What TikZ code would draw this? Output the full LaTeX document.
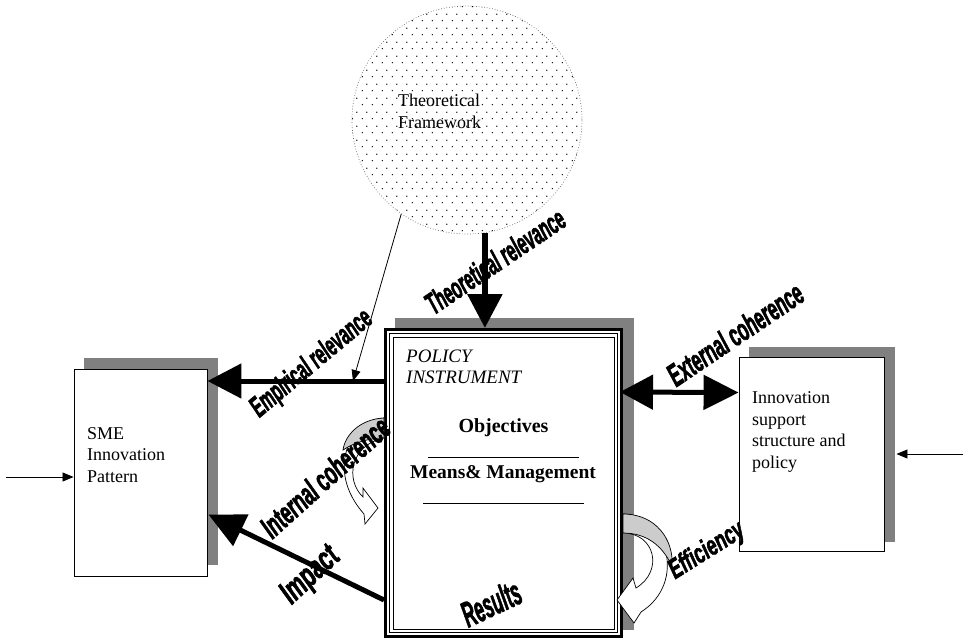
\documentclass[tikz,border=0pt]{standalone}
\usepackage{graphicx}
\usepackage{fontspec}
\setmainfont{Liberation Serif}
\newfontface\wafont{Liberation Sans Bold Italic}[FakeBold=2.5]
\usetikzlibrary{arrows.meta,shapes.geometric,patterns.meta,calc}
\tikzdeclarepattern{name=sdots,type=uncolored,bounding box={(0pt,0pt) and (10pt,14pt)},tile size={(10pt,14pt)},code={\fill (2.5pt,3.5pt) circle (0.8pt); \fill (7.5pt,10.5pt) circle (0.8pt);}}
\begin{document}
\begin{tikzpicture}[x=1pt,y=-1pt,
  shadowbox/.style={fill=black!50,draw=none},
  plainbox/.style={rectangle,draw=black,line width=0.9pt,fill=white,inner sep=0pt},
  bigarrow/.style={line width=5pt,-{Triangle[length=34pt,width=34pt]}},
  thinarrow/.style={line width=0.8pt,-{Triangle[length=11pt,width=9pt]}},
  walabel/.style={font=\wafont,inner sep=0pt},
  serifblock/.style={font=\fontsize{18}{21.5}\selectfont,align=left,inner sep=0pt},
  curvedarrow/.style={draw=black,line width=0.7pt,fill=white},
  curvedback/.style={draw=black,line width=0.7pt,fill=black!20}]
\useasboundingbox (0,0) rectangle (968,640);

% shadows
\fill[shadowbox] (84,358) rectangle (218,565);
\fill[shadowbox] (395,318) rectangle (634,630);
\fill[shadowbox] (749,347) rectangle (895,542);

% boxes
\node[plainbox,minimum width=133pt,minimum height=207pt] (sme) at (140.5,472.5) {};
\node[plainbox,minimum width=145pt,minimum height=194pt] (isp) at (811.5,454) {};
\node[rectangle,draw=black,line width=3pt,fill=white,inner sep=0pt,minimum width=236pt,minimum height=307pt] (pi) at (503.5,483) {};
\draw[line width=1.4pt] ($(pi.north west)+(5.5,5.5)$) rectangle ($(pi.south east)+(-5.5,-5.5)$);
\draw[line width=1pt] ($(pi.north west)+(9,9)$) rectangle ($(pi.south east)+(-9,-9)$);

% ellipse
\node[ellipse,draw=black!60,dotted,line width=0.7pt,pattern=sdots,pattern color=black,minimum width=230pt,minimum height=228pt,inner sep=0pt] (tf) at (467,120) {};
\node[serifblock,anchor=base west] (tfT) at (398,128) {Theoretical\\Framework};

% box texts
\node[serifblock,anchor=base west] (smeT) at (87,482) {SME\\Innovation\\Pattern};
\node[serifblock,anchor=base west] (ispT) at (752,468) {Innovation\\support\\structure and\\policy};
\node[font=\fontsize{19}{21}\selectfont\itshape,align=left,anchor=base west,inner sep=0pt] (piT) at (406,383) {POLICY\\INSTRUMENT};
\node[font=\fontsize{20}{24}\selectfont\bfseries,anchor=base,inner sep=0pt] (obj) at (503.5,432) {Objectives};
\node[font=\fontsize{19.5}{24}\selectfont\bfseries,anchor=base,inner sep=0pt] (mm) at (503,478) {Means\& Management};
\draw[line width=1pt] (428,457) -- (579,457);
\draw[line width=1pt] (423,503) -- (584,503);

% connectors
\coordinate (empS) at ($(pi.north west)+(0,53)$);
\coordinate (empM) at ($(empS)+(-31,0)$);
\draw[bigarrow] (empS) -- (empS -| sme.east);
\draw[thinarrow] (tf.-125.8) -- (empM);
\draw[bigarrow,line width=6pt] (tf.-81.5) -- (tf.-81.5 |- pi.north);
\coordinate (impS) at ($(pi.north west)+(0,272)$);
\coordinate (impE) at ($(sme.north east)+(1,146)$);
\draw[bigarrow,-{Triangle[length=36pt,width=34pt]}] (impS) -- (impE);
\coordinate (extS) at ($(pi.north east)+(-3,64)$);
\coordinate (extE) at ($(isp.north west)+(0,36)$);
\draw[line width=5pt,{Triangle[length=33pt,width=34pt]}-{Triangle[length=35pt,width=34pt]}] (extS) -- (extE);
\coordinate (inL) at ($(sme.west)+(-68,4.5)$);
\draw[thinarrow] (inL) -- (inL -| sme.west);
\coordinate (inR) at ($(isp.east)+(79,0)$);
\coordinate (ispS) at ($(isp.east)+(12,0)$);
\draw[thinarrow] (inR) -- (ispS);

% efficiency curved arrow
\draw[curvedarrow] (623,514) .. controls (666,514) and (688,582) .. (641,612) -- (634,623) -- (617,600) -- (633,578) -- (636,588) .. controls (664,571) and (655,533) .. (623,533) -- cycle;
\draw[curvedback] (623,514) .. controls (656,514) and (674,540) .. (672,566) .. controls (662,545) and (646,533) .. (623,533) -- cycle;

% internal coherence curved arrow
\draw[curvedarrow] (384,418) .. controls (350,420) and (325,470) .. (364,514) -- (365,524) -- (378,508) -- (363,488) -- (363,497) .. controls (345,480) and (350,445) .. (384,438) -- cycle;
\draw[curvedback] (384,418) .. controls (360,419) and (345,435) .. (343,450) .. controls (355,442) and (370,438) .. (384,438) -- cycle;

% WordArt labels
\node[walabel,rotate=34] (lTR) at (495,261) {\resizebox{162pt}{22pt}{Theoretical relevance}};
\node[walabel,rotate=40] (lER) at (312,364) {\resizebox{150pt}{21pt}{Empirical relevance}};
\node[walabel,rotate=34] (lEC) at (735,334) {\resizebox{157pt}{23pt}{External coherence}};
\node[walabel,rotate=42] (lIC) at (325,477) {\resizebox{162pt}{23pt}{Internal coherence}};
\node[walabel,rotate=43] (lIM) at (311,576) {\resizebox{68pt}{23pt}{Impact}};
\node[walabel,rotate=32] (lEF) at (707,551) {\resizebox{84pt}{20pt}{Efficiency}};
\node[walabel,rotate=25] (lRS) at (491,603) {\resizebox{62pt}{26pt}{Results}};
\end{tikzpicture}
\end{document}
